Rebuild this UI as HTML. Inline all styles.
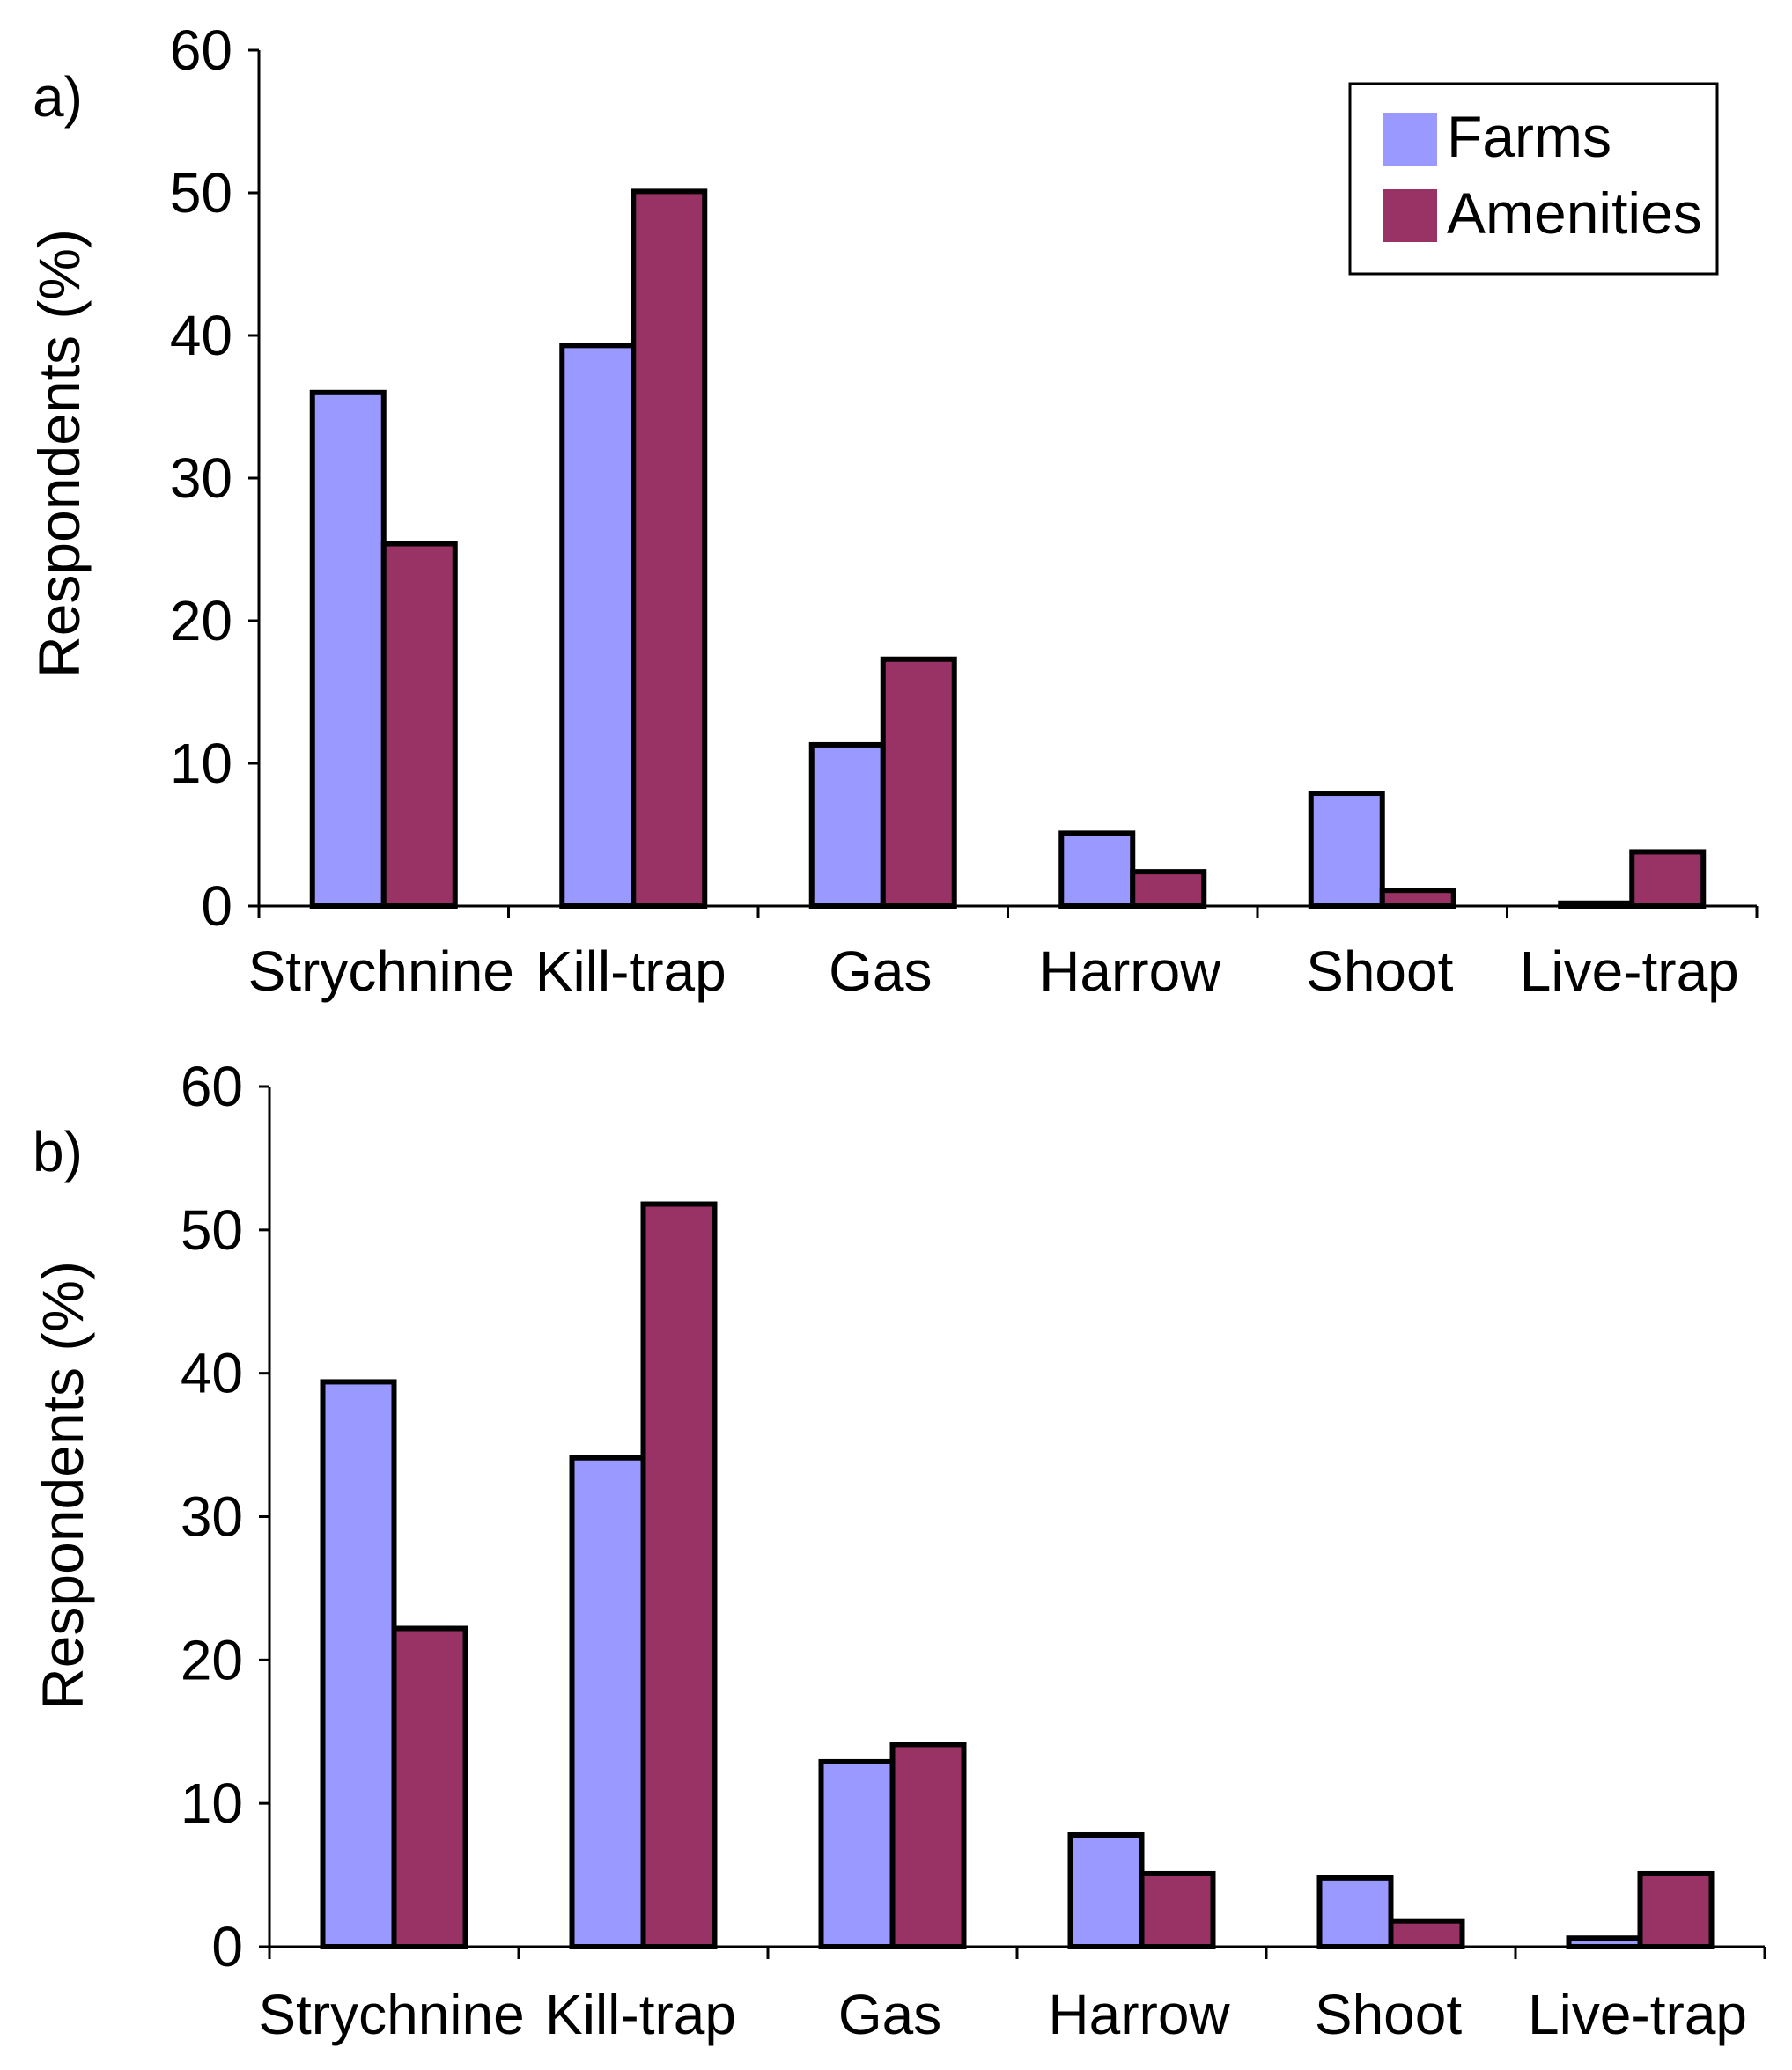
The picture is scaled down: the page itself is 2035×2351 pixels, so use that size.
<!DOCTYPE html>
<html><head><meta charset="utf-8"><style>
html,body{margin:0;padding:0;background:#fff;}
svg{display:block;font-family:"Liberation Sans",sans-serif;}
</style></head><body>
<svg id="chart" width="2035" height="2351" viewBox="0 0 2035 2351" xmlns="http://www.w3.org/2000/svg"></svg>
<script>
const categories = ["Strychnine","Kill-trap","Gas","Harrow","Shoot","Live-trap"];
const farmsA = [36, 39.3, 11.3, 5.1, 7.9, 0.2];
const amenitiesA = [25.4, 50.1, 17.3, 2.4, 1.1, 3.8];
const farmsB = [39.4, 34.1, 12.9, 7.8, 4.8, 0.6];
const amenitiesB = [22.2, 51.8, 14.1, 5.1, 1.8, 5.1];
const yTicks = [0, 10, 20, 30, 40, 50, 60];

const svg = document.getElementById('chart');
const NS = 'http://www.w3.org/2000/svg';
function mk(tag, attrs, parent) {
  const e = document.createElementNS(NS, tag);
  for (const k in attrs) e.setAttribute(k, attrs[k]);
  (parent || svg).appendChild(e);
  return e;
}

function panel(p) {
  const g = mk('g', {});
  
  
  const yS = v => p.bottom - (v / 60) * (p.bottom - p.top);
  const catW = (p.xEnd - p.x0) / categories.length;
  const xC = i => p.x0 + catW * i + catW / 2;
  categories.forEach((c, i) => {
    const bw = 81;
    const series = [[p.farms, '#9999ff', 'farms'], [p.amen, '#993366', 'amenities']];
    series.forEach((s, j) => {
      const v = s[0][i];
      const x = xC(i) - bw + j * bw;
      const r = mk('rect', {x: x, y: yS(v), width: bw, height: yS(0) - yS(v), fill: s[1], stroke: '#000', 'stroke-width': 6}, g);
      
      
    });
    const t = mk('text', {x: xC(i) - 3, y: p.labelY, 'font-size': 64, 'text-anchor': 'middle', fill: '#000'}, g);
    t.textContent = c;
    
    
  });
  const ya = mk('line', {x1: p.x0, y1: p.top, x2: p.x0, y2: p.bottom + 12, stroke: '#000', 'stroke-width': 3}, g);
  
  
  const xa = mk('line', {x1: p.x0, y1: p.bottom, x2: p.xEnd, y2: p.bottom, stroke: '#000', 'stroke-width': 3}, g);
  
  
  for (let i = 0; i <= categories.length; i++) {
    const x = p.x0 + catW * i;
    mk('line', {x1: x, y1: p.bottom, x2: x, y2: p.bottom + 14, stroke: '#000', 'stroke-width': 3}, g);
  }
  yTicks.forEach(v => {
    mk('line', {x1: p.x0 - 12, y1: yS(v), x2: p.x0, y2: yS(v), stroke: '#000', 'stroke-width': 3}, g);
    const t = mk('text', {x: p.x0 - 30, y: yS(v) + 22, 'font-size': 64, 'text-anchor': 'end', fill: '#000'}, g);
    t.textContent = v;
    
    
  });
  const yl = mk('text', {x: 0, y: 0, 'font-size': 66, 'text-anchor': 'middle', fill: '#000', transform: 'translate(' + p.ylx + ',' + p.yly + ') rotate(-90)'}, g);
  yl.textContent = 'Respondents (%)';
  
  
  const pl = mk('text', {x: 37, y: p.panelY, 'font-size': 64, fill: '#000'}, g);
  pl.textContent = p.id + ')';
  
  
}

panel({id: 'a', x0: 294, xEnd: 1995, top: 57, bottom: 1029, farms: farmsA, amen: amenitiesA, labelY: 1125, ylx: 90, yly: 515, panelY: 132});
panel({id: 'b', x0: 306, xEnd: 2004, top: 1234, bottom: 2211, farms: farmsB, amen: amenitiesB, labelY: 2310, ylx: 94, yly: 1687, panelY: 1330});

const lg = mk('g', {});


mk('rect', {x: 1533, y: 95, width: 417, height: 216, fill: '#fff', stroke: '#000', 'stroke-width': 3}, lg);
[['Farms', '#9999ff', 128], ['Amenities', '#993366', 215]].forEach(e => {
  const s = mk('rect', {x: 1570, y: e[2], width: 62, height: 60, fill: e[1]}, lg);
  
  
  const t = mk('text', {x: 1643, y: e[2] + 50, 'font-size': 66, fill: '#000'}, lg);
  t.textContent = e[0];
  
  
});
</script>
</body></html>
